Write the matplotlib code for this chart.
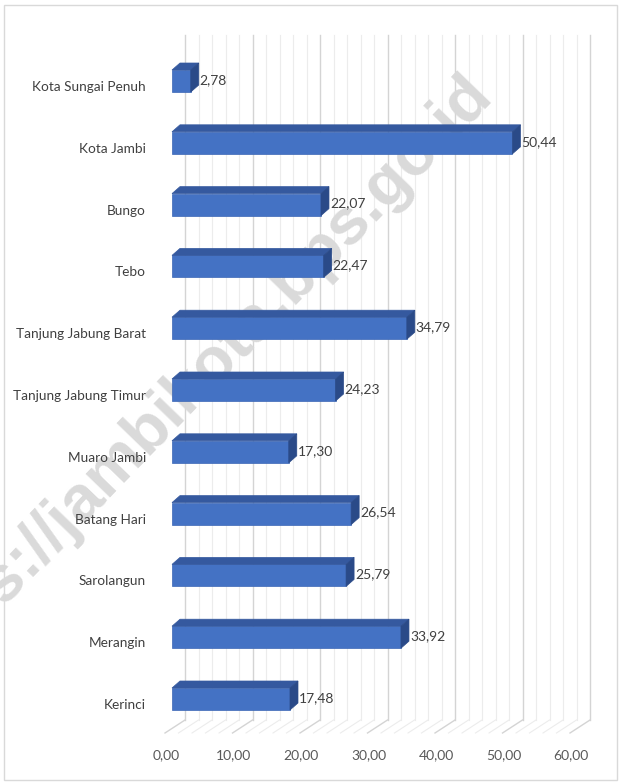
import matplotlib
matplotlib.use("Agg")
import matplotlib.pyplot as plt
from matplotlib.patches import Polygon, Rectangle
import matplotlib.transforms as mtransforms

# ---- data ----
categories = ["Kerinci", "Merangin", "Sarolangun", "Batang Hari", "Muaro Jambi",
              "Tanjung Jabung Timur", "Tanjung Jabung Barat", "Tebo", "Bungo",
              "Kota Jambi", "Kota Sungai Penuh"]
values = [17.48, 33.92, 25.79, 26.54, 17.30, 24.23, 34.79, 22.47, 22.07, 50.44, 2.78]
value_labels = ["17,48", "33,92", "25,79", "26,54", "17,30", "24,23", "34,79",
                "22,47", "22,07", "50,44", "2,78"]
x_ticks = [0, 10, 20, 30, 40, 50, 60]
x_tick_labels = ["0,00", "10,00", "20,00", "30,00", "40,00", "50,00", "60,00"]
watermark = "https://jambikota.bps.go.id"

W, H = 620, 784
DPI = 100
fig = plt.figure(figsize=(W / DPI, H / DPI), dpi=DPI)

# pixel geometry of plot
x0_pix = 172.0          # value 0 at bar front
px_per_unit = 6.75
y0_pix = 699.0          # category 0 front centre
px_per_cat = 61.8
ax_left, ax_right, ax_top, ax_bot = 160, 612, 28, 748

ax = fig.add_axes([ax_left / W, 1 - ax_bot / H, (ax_right - ax_left) / W, (ax_bot - ax_top) / H])
ax.set_xlim((ax_left - x0_pix) / px_per_unit, (ax_right - x0_pix) / px_per_unit)
ax.set_ylim((y0_pix - ax_bot) / px_per_cat, (y0_pix - ax_top) / px_per_cat)
ax.patch.set_alpha(0)
for s in ax.spines.values():
    s.set_visible(False)

ux = 1.0 / px_per_unit   # data units per pixel (x)
uy = 1.0 / px_per_cat    # data units per pixel (y)

# watermark (above grid, below tick labels, bars and value labels)
ax.text(482 / W, 1 - 84 / H, watermark, rotation=46, rotation_mode="anchor",
        ha="right", va="center", fontsize=47, fontweight="bold",
        family="Liberation Sans", color="#DADADA", zorder=1.2,
        transform=fig.transFigure, clip_on=False)

# ---- grid: back wall + floor ----
wall_dx = 13 * ux
floor_front_dx = -7 * ux
y_floor_back = -21 * uy
y_floor_front = -34 * uy
y_wall_top = (y0_pix - 35) * uy
for v in [i * 2 for i in range(31)]:
    major = (v % 10 == 0)
    col = "#D4D4D4" if major else "#ECECEC"
    lw = 1.0 if major else 0.8
    ax.plot([v + wall_dx, v + wall_dx], [y_floor_back, y_wall_top], color=col, lw=lw, zorder=1)
    ax.plot([v + floor_front_dx, v + wall_dx], [y_floor_front, y_floor_back], color=col, lw=lw, zorder=1)

# ---- 3D bars ----
front_col = "#4472C4"
top_col = "#35599F"
side_col = "#2A4A88"
half_h = 11 * uy
ddx = 8 * ux
ddy = 7 * uy
for i, v in enumerate(values):
    yb, yt = i - half_h, i + half_h
    front = Polygon([(0, yb), (v, yb), (v, yt), (0, yt)], closed=True,
                    facecolor=front_col, edgecolor="#3B66B5", lw=0.5, zorder=3)
    top = Polygon([(0, yt), (v, yt), (v + ddx, yt + ddy), (ddx, yt + ddy)], closed=True,
                  facecolor=top_col, edgecolor=top_col, lw=0.5, zorder=3)
    side = Polygon([(v, yb), (v + ddx, yb + ddy), (v + ddx, yt + ddy), (v, yt)], closed=True,
                   facecolor=side_col, edgecolor=side_col, lw=0.5, zorder=3)
    for p in (front, top, side):
        ax.add_patch(p)
    ax.text(v + ddx + 1 * ux, i + 1 * uy, value_labels[i], ha="left", va="center",
            fontsize=10, family="Lato", color="#404040", zorder=4)

# ---- ticks ----
ax.set_yticks(range(len(categories)))
ax.set_yticklabels(categories, family="Lato", fontsize=9.8, color="#404040")
ax.tick_params(axis="y", length=0, pad=10)
off_y = mtransforms.ScaledTranslation(0, -5 / DPI, fig.dpi_scale_trans)
for lab in ax.get_yticklabels():
    lab.set_transform(lab.get_transform() + off_y)

ax.set_xticks(x_ticks)
ax.set_xticklabels(x_tick_labels, family="Lato", fontsize=10, color="#595959")
ax.tick_params(axis="x", length=0, pad=1)
off_x = mtransforms.ScaledTranslation(-6 / DPI, 0, fig.dpi_scale_trans)
for lab in ax.get_xticklabels():
    lab.set_transform(lab.get_transform() + off_x)

# outer chart border
fig.patches.append(Rectangle((4 / W, 1 - 780 / H), 613 / W, 775 / H, transform=fig.transFigure,
                             fill=False, edgecolor="#D9D9D9", lw=1.0, zorder=0))

fig.savefig("out.png", dpi=DPI)
